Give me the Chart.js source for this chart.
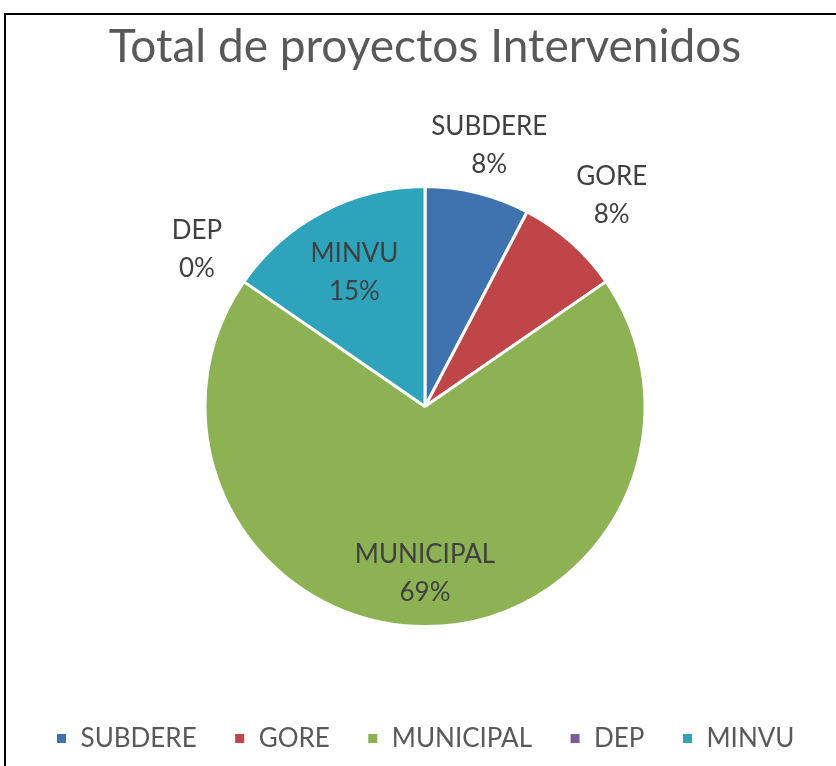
<!DOCTYPE html>
<html>
<head>
<meta charset="utf-8">
<script src="https://cdn.jsdelivr.net/npm/chart.js@4/dist/chart.umd.min.js"></script>
<style>
html,body{margin:0;padding:0;background:#fff;}
#wrap{position:relative;width:836px;height:766px;overflow:hidden;}
#frame{position:absolute;left:4px;top:13px;width:900px;height:900px;border-left:2px solid #000;border-top:2px solid #000;pointer-events:none;}
canvas{display:block;}
</style>
</head>
<body>
<div id="wrap">
<canvas id="c" width="836" height="766"></canvas>
<div id="frame"></div>
</div>
<script>
const title = "Total de proyectos Intervenidos";
const categories = ["SUBDERE", "GORE", "MUNICIPAL", "DEP", "MINVU"];
const projectCounts = [1, 1, 9, 0, 2];
const sliceColors = ["#3F73B0", "#BF4548", "#8CB254", "#7C5A9C", "#2EA3BC"];

const FONT = "Lato, 'Open Sans', sans-serif";
const TEXT = "#404040";

// label placement style: radius factor relative to outer radius
const labelRadius = [1.22, 1.28, 0.76, 1.26, 0.69];

const labelPlugin = {
  id: 'sliceLabels',
  afterDatasetsDraw(chart) {
    const ctx = chart.ctx;
    const meta = chart.getDatasetMeta(0);
    const data = chart.data.datasets[0].data;
    const total = data.reduce((a, b) => a + b, 0);
    ctx.save();
    ctx.font = "26px " + FONT;
    ctx.fillStyle = TEXT;
    ctx.textAlign = "center";
    ctx.textBaseline = "middle";
    meta.data.forEach((arc, i) => {
      const p = arc.getProps(['x', 'y', 'startAngle', 'endAngle', 'outerRadius'], true);
      const mid = (p.startAngle + p.endAngle) / 2;
      const r = p.outerRadius * labelRadius[i];
      const cx = p.x + Math.cos(mid) * r;
      const cy = p.y + Math.sin(mid) * r;
      const pct = Math.round(data[i] / total * 100) + "%";
      ctx.fillText(chart.data.labels[i], cx, cy - 19);
      ctx.fillText(pct, cx, cy + 19);
    });
    ctx.restore();
  }
};

new Chart(document.getElementById('c'), {
  type: 'pie',
  data: {
    labels: categories,
    datasets: [{
      data: projectCounts,
      backgroundColor: sliceColors,
      borderColor: "#ffffff",
      borderWidth: 3,
      radius: 220
    }]
  },
  options: {
    responsive: false,
    animation: false,
    layout: { padding: { top: 0, bottom: 4.4, left: 14, right: 0 } },
    plugins: {
      title: {
        display: true,
        text: title,
        color: "#595959",
        font: { family: FONT, size: 46, weight: 'normal' },
        padding: { top: 20, bottom: 49.4 }
      },
      legend: {
        display: true,
        position: 'bottom',
        labels: {
          color: "#595959",
          font: { family: FONT, size: 26 },
          boxWidth: 12,
          boxHeight: 12,
          padding: 37
        }
      },
      tooltip: { enabled: false }
    }
  },
  plugins: [labelPlugin]
});
</script>
</body>
</html>
